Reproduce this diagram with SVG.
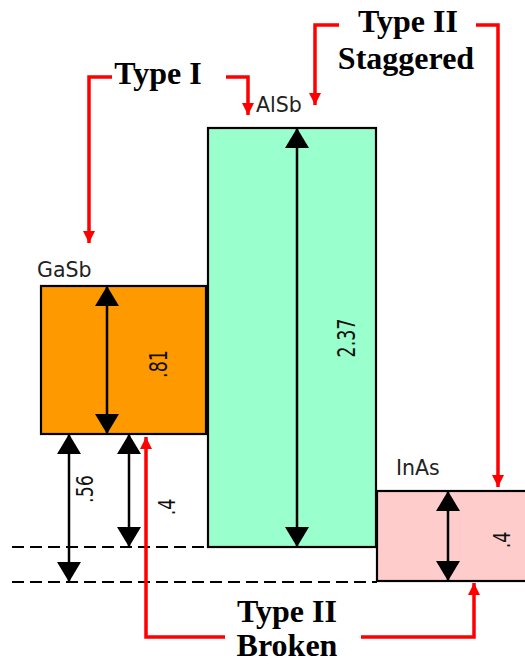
<svg xmlns="http://www.w3.org/2000/svg" width="525" height="664" viewBox="0 0 525 664">
<style>
.box{stroke:#000;stroke-width:2.2}
.lbl{font-family:"DejaVu Sans",Verdana,sans-serif;font-size:20.5px;fill:#222}
.num{font-family:"DejaVu Sans",Verdana,sans-serif;font-size:17.5px;fill:#111;text-anchor:middle}
.ttl{font-family:"Liberation Serif","Times New Roman",serif;font-weight:bold;font-size:32px;fill:#000;text-anchor:middle}
.dim{stroke:#000;stroke-width:2.5;fill:none;marker-start:url(#bk);marker-end:url(#bk)}
.red{stroke:#f00;stroke-width:3.5;fill:none;stroke-linejoin:miter;marker-end:url(#rd)}
.dash{stroke:#000;stroke-width:2;stroke-dasharray:12 6}
</style>
<defs>
<marker id="bk" markerUnits="userSpaceOnUse" markerWidth="24" markerHeight="24" viewBox="0 -12 20 24" refX="20" refY="0" orient="auto-start-reverse"><path d="M0,-12 L20,0 L0,12 Z" fill="#000"/></marker>
<marker id="rd" markerUnits="userSpaceOnUse" markerWidth="12" markerHeight="12" viewBox="0 -6 12 12" refX="12" refY="0" orient="auto"><path d="M0,-6 L12,0 L0,6 Z" fill="#f00"/></marker>
</defs>
<rect width="525" height="664" fill="#fff"/>
<g id="baseline-dashes">
<line class="dash" x1="12" y1="547" x2="208" y2="547"/>
<line class="dash" x1="12" y1="582" x2="377" y2="582"/>
</g>
<g id="GaSb">
<rect class="box" x="41" y="286" width="165" height="148" fill="#ff9900"/>
<text class="lbl" x="37" y="277">GaSb</text>
</g>
<g id="AlSb">
<rect class="box" x="208" y="128" width="168" height="419" fill="#99ffcc"/>
<text class="lbl" x="256" y="112">AlSb</text>
</g>
<g id="InAs">
<rect class="box" x="377" y="491" width="150" height="90" fill="#ffcccc"/>
<text class="lbl" x="396" y="475">InAs</text>
</g>
<g id="dimensions">
<line class="dim" x1="107" y1="286" x2="107" y2="434"/>
<line class="dim" x1="297" y1="128" x2="297" y2="547"/>
<line class="dim" x1="448" y1="491" x2="448" y2="581"/>
<line class="dim" x1="69" y1="434" x2="69" y2="582"/>
<line class="dim" x1="129" y1="434" x2="129" y2="547"/>
<text class="num" transform="translate(355,338) rotate(-90) scale(1,1.45)">2.37</text>
<text class="num" transform="translate(167,364) rotate(-90) scale(1,1.45)">.81</text>
<text class="num" transform="translate(93,489) rotate(-90) scale(1,1.3)">.56</text>
<text class="num" transform="translate(175,507) rotate(-90) scale(1,1.3)">.4</text>
<text class="num" transform="translate(510,540) rotate(-90) scale(1,1.3)">.4</text>
</g>
<g id="connectors">
<polyline class="red" points="112,77 89,77 89,243"/>
<polyline class="red" points="226,77 248,77 248,115"/>
<polyline class="red" points="339,25 315,25 315,105"/>
<polyline class="red" points="476,25 498,25 498,487"/>
<polyline class="red" points="225,637 146,637 146,437"/>
<polyline class="red" points="361,637 474,637 474,583"/>
</g>
<g id="type-I"><text class="ttl" x="158" y="84">Type I</text></g>
<g id="type-II-staggered"><text class="ttl" x="408" y="32">Type II</text><text class="ttl" x="406" y="69">Staggered</text></g>
<g id="type-II-broken"><text class="ttl" x="287" y="622">Type II</text><text class="ttl" x="287" y="656">Broken</text></g>
</svg>
